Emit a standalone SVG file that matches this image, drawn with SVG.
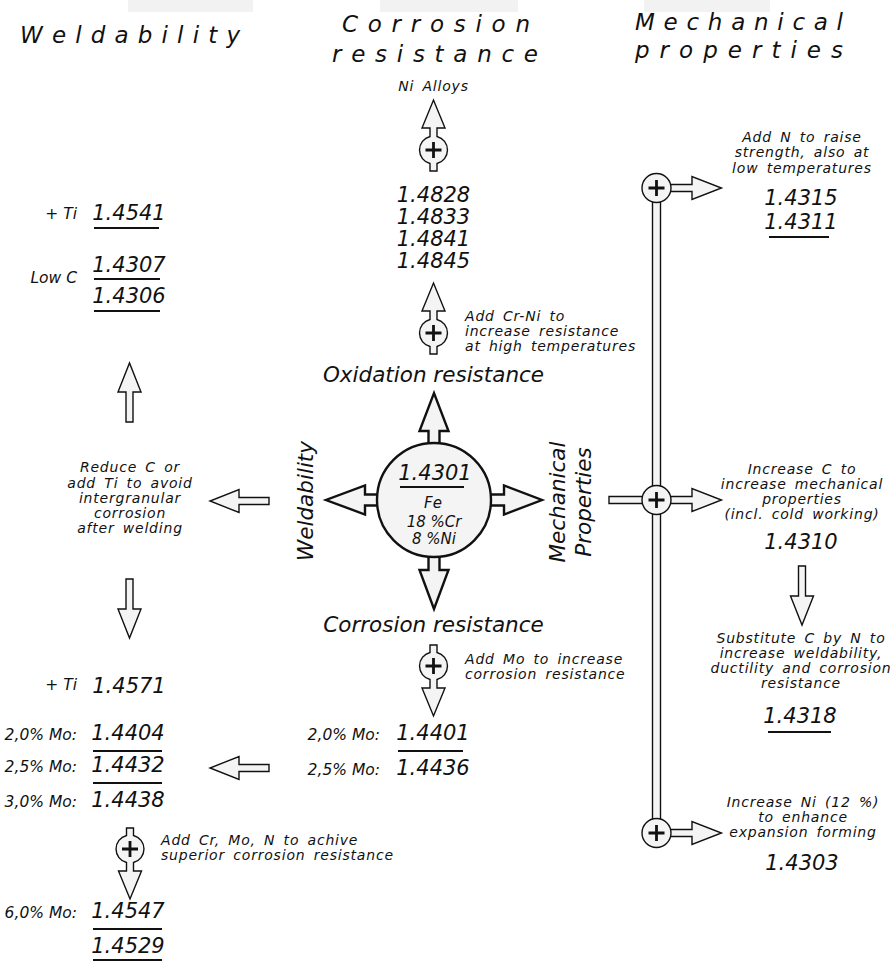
<svg xmlns="http://www.w3.org/2000/svg" xmlns:xlink="http://www.w3.org/1999/xlink" width="892" height="961" viewBox="0 0 892 961">
<style>
text{font-family:"DejaVu Sans",sans-serif;font-style:oblique;fill:#111}
.h{font-size:23px}
.b{font-size:21.5px}
.n{font-size:21px}
.s{font-size:14px;letter-spacing:0.8px;word-spacing:3px}
.l{font-size:15.5px}
.c{font-size:15px}
.m{text-anchor:middle}
.e{text-anchor:end}
.ar{fill:#f4f4f4;stroke:#111;stroke-width:1.4;stroke-linejoin:miter}
.big{fill:#f4f4f4;stroke:#111;stroke-width:2.4;stroke-linejoin:miter}
.ul{stroke:#111;stroke-width:2.2}
.pl{stroke:#111;stroke-width:2.8}
</style>
<defs>
<g id="plusArrow">
<path class="ar" d="M -3.5 21 L 3.5 21 L 3.5 13.55 A 14 14 0 0 0 3.5 -13.55 L 3.5 -22 L 11.5 -22 L 0 -50 L -11.5 -22 L -3.5 -22 L -3.5 -13.55 A 14 14 0 0 0 -3.5 13.55 Z"/>
<path class="pl" d="M -8 0 H 8 M 0 -8 V 8"/>
</g>
<path id="arrow" class="ar" d="M 0 -3.5 L 30 -3.5 L 30 -11.5 L 59 0 L 30 11.5 L 30 3.5 L 0 3.5 Z"/>
<g id="plusCircle">
<circle class="ar" cx="0" cy="0" r="14.5"/>
<path class="pl" d="M -8 0 H 8 M 0 -8 V 8"/>
</g>
<path id="sideArrow" class="ar" d="M 0 -3.5 L 35.5 -3.5 L 35.5 -11.5 L 65 0 L 35.5 11.5 L 35.5 3.5 L 0 3.5 Z"/>
</defs>
<rect width="892" height="961" fill="#fff"/>
<g id="tabs" fill="#f2f2f2">
<rect x="128" y="0" width="125" height="12"/>
<rect x="380" y="0" width="138" height="12"/>
<rect x="644" y="0" width="126" height="12"/>
</g>
<g id="headers">
<text class="h" x="20" y="43" textLength="220" lengthAdjust="spacing">Weldability</text>
<text class="h" x="342" y="32" textLength="188" lengthAdjust="spacing">Corrosion</text>
<text class="h" x="332" y="62" textLength="206" lengthAdjust="spacing">resistance</text>
<text class="h" x="635" y="30" textLength="208" lengthAdjust="spacing">Mechanical</text>
<text class="h" x="635" y="58" textLength="208" lengthAdjust="spacing">properties</text>
</g>
<g id="connectors">
<use xlink:href="#plusArrow" transform="translate(433.5,150)"/>
<use xlink:href="#plusArrow" transform="translate(433.5,333)"/>
<use xlink:href="#plusArrow" transform="translate(433.5,666) rotate(180)"/>
<use xlink:href="#plusArrow" transform="translate(130,849) rotate(180)"/>
<use xlink:href="#arrow" transform="translate(129.5,422) rotate(-90)"/>
<use xlink:href="#arrow" transform="translate(129.5,579) rotate(90)"/>
<use xlink:href="#arrow" transform="translate(269,501) rotate(180)"/>
<use xlink:href="#arrow" transform="translate(269,768) rotate(180)"/>
<use xlink:href="#arrow" transform="translate(802,566) rotate(90)"/>
<rect class="ar" x="652.5" y="195" width="8" height="630"/>
<path class="ar" d="M 609 496.5 L 656.5 496.5 L 656.5 503.5 L 609 503.5 Z"/>
<use xlink:href="#sideArrow" transform="translate(656.5,188)"/>
<use xlink:href="#sideArrow" transform="translate(656.5,500)"/>
<use xlink:href="#sideArrow" transform="translate(656.5,833)"/>
<use xlink:href="#plusCircle" transform="translate(656.5,188)"/>
<use xlink:href="#plusCircle" transform="translate(656.5,500)"/>
<use xlink:href="#plusCircle" transform="translate(656.5,833)"/>
</g>
<g id="base">
<path class="big" d="M 428.5 445 L 428.5 431 L 419.5 431 L 434 393 L 448.5 431 L 439.5 431 L 439.5 445 Z"/>
<path class="big" d="M 428.5 555 L 428.5 570 L 419.5 570 L 434 609 L 448.5 570 L 439.5 570 L 439.5 555 Z"/>
<path class="big" d="M 379 494.5 L 365 494.5 L 365 485.5 L 326 500 L 365 514.5 L 365 505.5 L 379 505.5 Z"/>
<path class="big" d="M 489 494.5 L 504 494.5 L 504 485.5 L 542 500 L 504 514.5 L 504 505.5 L 489 505.5 Z"/>
<circle class="big" cx="434" cy="500" r="57"/>
<text class="n m" x="435" y="480">1.4301</text>
<line class="ul" x1="400" y1="487" x2="464" y2="487"/>
<text class="c m" x="433" y="508">Fe</text>
<text class="c m" x="434" y="527">18 %Cr</text>
<text class="c m" x="434" y="544">8 %Ni</text>
</g>
<g id="axisLabels">
<text class="b m" x="433.5" y="382">Oxidation resistance</text>
<text class="b m" x="433.5" y="632">Corrosion resistance</text>
<text class="b m" transform="translate(313,501) rotate(-90)">Weldability</text>
<text class="b m" transform="translate(565,502) rotate(-90)">Mechanical</text>
<text class="b m" transform="translate(591,502) rotate(-90)">Properties</text>
</g>
<g id="oxidation">
<text class="s m" x="433.5" y="91">Ni Alloys</text>
<text class="n m" x="433.5" y="202">1.4828</text>
<text class="n m" x="433.5" y="224">1.4833</text>
<text class="n m" x="433.5" y="246">1.4841</text>
<text class="n m" x="433.5" y="268">1.4845</text>
<text class="s" x="465" y="321">Add Cr-Ni to</text>
<text class="s" x="465" y="336">increase resistance</text>
<text class="s" x="465" y="351">at high temperatures</text>
</g>
<g id="corrosion">
<text class="s" x="465" y="664">Add Mo to increase</text>
<text class="s" x="465" y="679">corrosion resistance</text>
<text class="l e" x="380" y="740">2,0% Mo:</text>
<text class="n m" x="433" y="740">1.4401</text>
<line class="ul" x1="398" y1="751" x2="463" y2="751"/>
<text class="l e" x="380" y="775">2,5% Mo:</text>
<text class="n m" x="433" y="775">1.4436</text>
</g>
<g id="weldability">
<text class="l e" x="77" y="219">+ Ti</text>
<text class="n m" x="129" y="220">1.4541</text>
<line class="ul" x1="94" y1="228" x2="159" y2="228"/>
<text class="l e" x="77" y="283">Low C</text>
<text class="n m" x="129" y="272">1.4307</text>
<line class="ul" x1="94" y1="279" x2="160" y2="279"/>
<text class="n m" x="129" y="303">1.4306</text>
<line class="ul" x1="94" y1="311" x2="160" y2="311"/>
<text class="s m" x="130" y="472">Reduce C or</text>
<text class="s m" x="130" y="488">add Ti to avoid</text>
<text class="s m" x="130" y="503">intergranular</text>
<text class="s m" x="130" y="518">corrosion</text>
<text class="s m" x="130" y="533">after welding</text>
</g>
<g id="molybdenum">
<text class="l e" x="77" y="690">+ Ti</text>
<text class="n m" x="129" y="693">1.4571</text>
<text class="l e" x="77" y="740">2,0% Mo:</text>
<text class="n m" x="128" y="740">1.4404</text>
<line class="ul" x1="93" y1="751" x2="162" y2="751"/>
<text class="l e" x="77" y="772">2,5% Mo:</text>
<text class="n m" x="128" y="772">1.4432</text>
<line class="ul" x1="93" y1="783" x2="162" y2="783"/>
<text class="l e" x="77" y="807">3,0% Mo:</text>
<text class="n m" x="128" y="807">1.4438</text>
<text class="s" x="161" y="845">Add Cr, Mo, N to achive</text>
<text class="s" x="161" y="860">superior corrosion resistance</text>
<text class="l e" x="77" y="918">6,0% Mo:</text>
<text class="n m" x="128" y="918">1.4547</text>
<line class="ul" x1="93" y1="929" x2="162" y2="929"/>
<text class="n m" x="128" y="953">1.4529</text>
<line class="ul" x1="93" y1="960" x2="162" y2="960"/>
</g>
<g id="mechanical">
<text class="s m" x="802" y="142">Add N to raise</text>
<text class="s m" x="802" y="157">strength, also at</text>
<text class="s m" x="802" y="173">low temperatures</text>
<text class="n m" x="801" y="205">1.4315</text>
<text class="n m" x="801" y="229">1.4311</text>
<line class="ul" x1="769" y1="237" x2="829" y2="237"/>
<text class="s m" x="802" y="474">Increase C to</text>
<text class="s m" x="802" y="489">increase mechanical</text>
<text class="s m" x="802" y="504">properties</text>
<text class="s m" x="802" y="519">(incl. cold working)</text>
<text class="n m" x="801" y="549">1.4310</text>
<text class="s m" x="801" y="643">Substitute C by N to</text>
<text class="s m" x="801" y="658">increase weldability,</text>
<text class="s m" x="801" y="673">ductility and corrosion</text>
<text class="s m" x="801" y="688">resistance</text>
<text class="n m" x="800" y="723">1.4318</text>
<line class="ul" x1="768" y1="732" x2="831" y2="732"/>
<text class="s m" x="803" y="807">Increase Ni (12 %)</text>
<text class="s m" x="803" y="822">to enhance</text>
<text class="s m" x="803" y="837">expansion forming</text>
<text class="n m" x="802" y="870">1.4303</text>
</g>
</svg>
